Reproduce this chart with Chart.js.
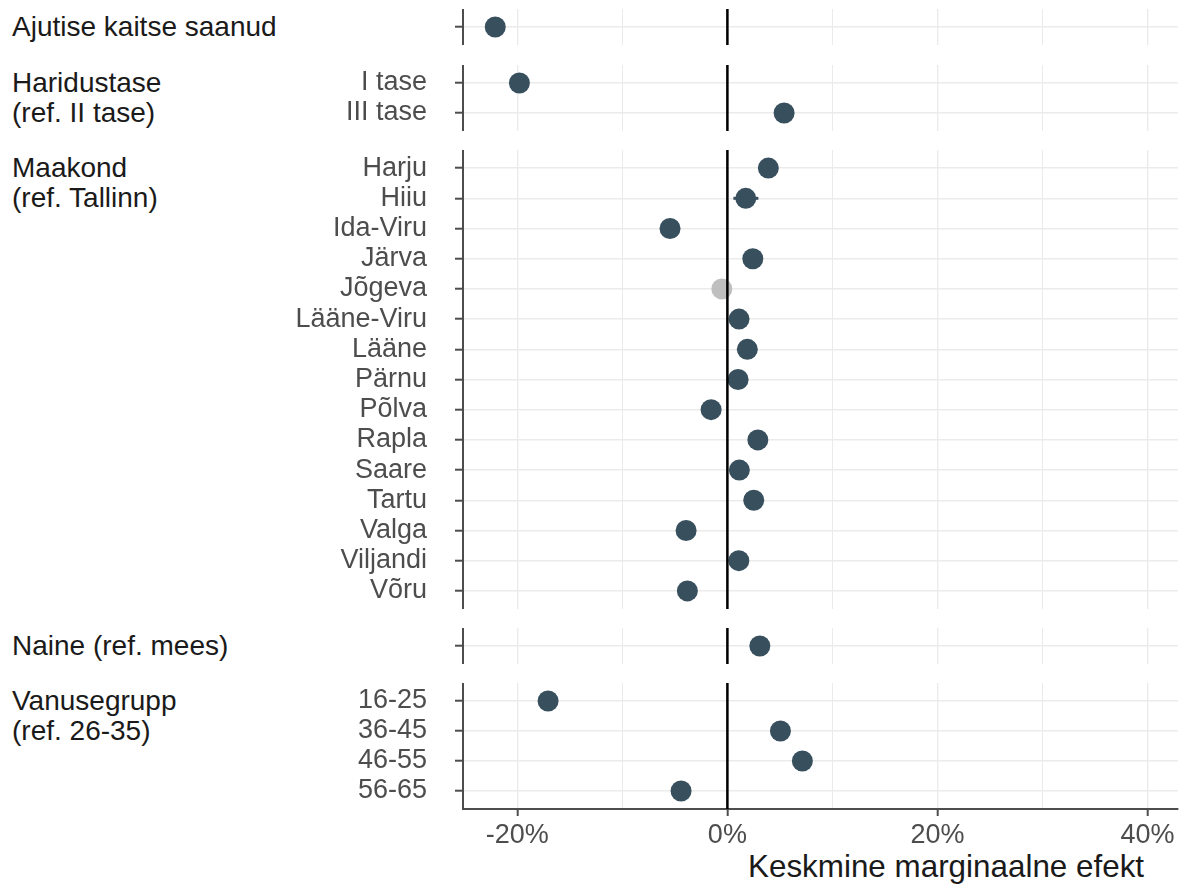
<!DOCTYPE html>
<html>
<head>
<meta charset="utf-8">
<script src="https://cdn.jsdelivr.net/npm/chart.js@4/dist/chart.umd.min.js"></script>
<style>
body { margin: 0; background: #fff; }
#wrap { position: relative; width: 1189px; height: 885px; overflow: hidden; font-family: "Liberation Sans", Arial, sans-serif; }
#wrap canvas { position: absolute; left: 0; }
.strip { position: absolute; left: 12px; font-size: 28px; line-height: 30px; color: #1a1a1a; white-space: nowrap; }
#xtitle { position: absolute; left: 748px; top: 851px; font-size: 31.4px; line-height: 31px; color: #1a1a1a; white-space: nowrap; }
</style>
</head>
<body>
<div id="wrap"><div id="xtitle">Keskmine marginaalne efekt</div></div>
<script>
// --- DATA ---
var ajutiseLabels = [''];
var ajutiseValues = [-22.1];

var haridusLabels = ['I tase', 'III tase'];
var haridusValues = [-19.8, 5.4];

var maakondLabels = ['Harju', 'Hiiu', 'Ida-Viru', 'Järva', 'Jõgeva', 'Lääne-Viru', 'Lääne', 'Pärnu',
                     'Põlva', 'Rapla', 'Saare', 'Tartu', 'Valga', 'Viljandi', 'Võru'];
var maakondValues = [3.9, 1.75, -5.46, 2.42, -0.53, 1.11, 1.9, 1.02, -1.55, 2.9, 1.14, 2.51, -3.93, 1.09, -3.81];
var maakondSignificant = [true, true, true, true, false, true, true, true, true, true, true, true, true, true, true];
var hiiuCI = [0.57, 2.95]; // only interval that shows outside its point

var naineLabels = [''];
var naineValues = [3.09];

var vanusLabels = ['16-25', '36-45', '46-55', '56-65'];
var vanusValues = [-17.07, 5.05, 7.14, -4.41];

var xTicks = [-20, -10, 0, 10, 20, 30, 40];

// --- STYLE ---
var FONT = '"Liberation Sans", Arial, sans-serif';
var DOT = '#384f5e';
var DOT_NS = '#bfbfbf';
var AXIS = '#4d4d4d';
var GRID = '#ebebeb';

function allSig(n) {
    var arr = [];
    for (var i = 0; i < n; i++) arr.push(true);
    return arr;
}

var panels = [
    { strip: 'Ajutise kaitse saanud', labels: ajutiseLabels, values: ajutiseValues, sig: allSig(1), top: 9, height: 36 },
    { strip: 'Haridustase<br>(ref. II tase)', labels: haridusLabels, values: haridusValues, sig: allSig(2), top: 65, height: 66 },
    { strip: 'Maakond<br>(ref. Tallinn)', labels: maakondLabels, values: maakondValues, sig: maakondSignificant, top: 150, height: 459,
      ci: { row: 1, range: hiiuCI } },
    { strip: 'Naine (ref. mees)', labels: naineLabels, values: naineValues, sig: allSig(1), top: 628, height: 36 },
    { strip: 'Vanusegrupp<br>(ref. 26-35)', labels: vanusLabels, values: vanusValues, sig: allSig(4), top: 683, height: 126 }
];

var wrap = document.getElementById('wrap');

function buatPanel(panel, isLast) {
    var n = panel.labels.length;
    var h = isLast ? 885 - panel.top : panel.height;

    var strip = document.createElement('div');
    strip.className = 'strip';
    strip.style.top = (panel.top + 3) + 'px';
    strip.innerHTML = panel.strip;
    wrap.appendChild(strip);

    var canvas = document.createElement('canvas');
    canvas.width = 1189;
    canvas.height = h;
    canvas.style.top = panel.top + 'px';
    wrap.appendChild(canvas);

    // zero line first so it sits on top
    var datasets = [{
        data: [{ x: 0, y: -0.6 }, { x: 0, y: n - 0.4 }],
        showLine: true, borderColor: '#000', borderWidth: 2.5, pointRadius: 0
    }, {
        data: panel.values.map(function(v, i) { return { x: v, y: i }; }),
        pointRadius: 10.5, pointBorderWidth: 0,
        pointBackgroundColor: panel.sig.map(function(s) { return s ? DOT : DOT_NS; })
    }];
    if (panel.ci) {
        datasets.push({
            data: [{ x: panel.ci.range[0], y: panel.ci.row }, { x: panel.ci.range[1], y: panel.ci.row }],
            showLine: true, borderColor: DOT, borderWidth: 3, pointRadius: 0
        });
    }

    new Chart(canvas.getContext('2d'), {
        type: 'scatter',
        data: { datasets: datasets },
        options: {
            responsive: false,
            animation: false,
            devicePixelRatio: 1,
            events: [],
            layout: { autoPadding: false, padding: { left: 0, right: 11, top: 0, bottom: 0 } },
            plugins: { legend: { display: false }, tooltip: { enabled: false } },
            scales: {
                x: {
                    type: 'linear', min: -25.17, max: 42.9,
                    afterBuildTicks: function(s) { s.ticks = xTicks.map(function(v) { return { value: v }; }); },
                    afterFit: function(s) { s.height = h - panel.height; s.paddingLeft = 0; s.paddingRight = 0; },
                    grid: {
                        color: GRID,
                        lineWidth: function(ctx) { return ctx.tick && ctx.tick.value % 20 === 0 ? 1.4 : 1; },
                        drawTicks: isLast, tickLength: 7, tickWidth: 2,
                        tickColor: function(ctx) { return ctx.tick && ctx.tick.value % 20 === 0 ? AXIS : 'rgba(0,0,0,0)'; }
                    },
                    border: { display: isLast, color: AXIS, width: 2 },
                    ticks: {
                        display: isLast, padding: 3, color: AXIS, font: { family: FONT, size: 27 },
                        callback: function(v) { return v % 20 === 0 ? v + '%' : ''; }
                    }
                },
                y: {
                    type: 'linear', reverse: true, min: -0.6, max: n - 0.4,
                    afterBuildTicks: function(s) { s.ticks = panel.labels.map(function(l, i) { return { value: i }; }); },
                    afterFit: function(s) { s.width = 463; s.paddingTop = 0; s.paddingBottom = 0; },
                    grid: { color: GRID, lineWidth: 1.4, tickLength: 8, tickColor: AXIS, tickWidth: 2 },
                    border: { display: true, color: AXIS, width: 2 },
                    ticks: {
                        autoSkip: false, padding: 28, color: AXIS, font: { family: FONT, size: 27 },
                        callback: function(v) { return panel.labels[v]; }
                    }
                }
            }
        }
    });
}

panels.forEach(function(p, i) {
    buatPanel(p, i === panels.length - 1);
});
</script>
</body>
</html>
